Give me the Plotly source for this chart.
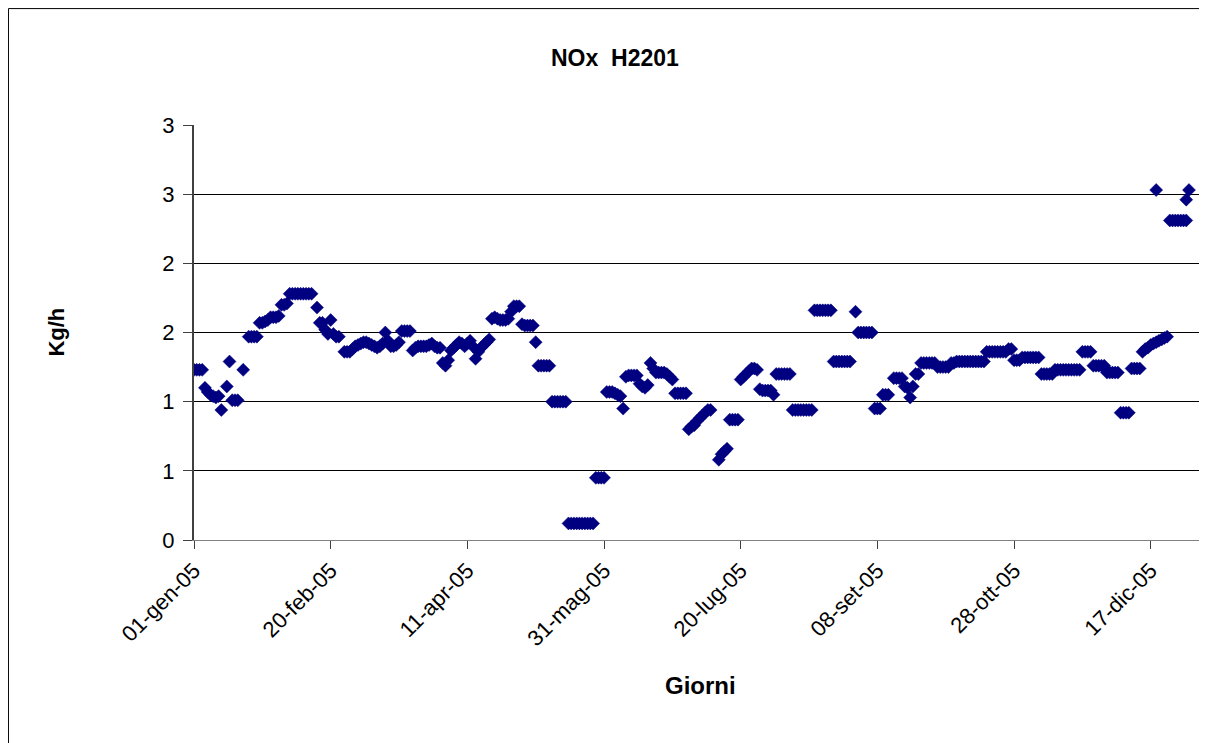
import pandas as pd
import plotly.graph_objects as go

# giorno = days from 01-gen-05, kgh = NOx emission (Kg/h)
giorno = [
    # gennaio
    0, 1, 2, 3, 4, 5, 6, 7, 8, 9, 10, 12, 13, 14, 15, 16, 18, 20, 21, 22, 23,
    24, 25, 26, 27, 28, 29, 30,
    # febbraio
    31, 32, 33, 34, 35, 36, 37, 38, 39, 40, 41, 42, 43, 45, 46, 47, 48, 49, 50,
    51, 52, 53, 55, 56, 57, 58,
    # marzo
    59, 60, 61, 62, 63, 64, 65, 66, 67, 68, 69, 70, 71, 72, 73, 74, 75, 76, 77,
    78, 79, 80, 81, 82, 83, 84, 85, 86, 87, 88, 89,
    # aprile
    90, 91, 92, 93, 94, 95, 96, 97, 98, 99, 100, 101, 102, 103, 104, 105, 106,
    107, 108, 109, 110, 111, 112, 113, 114, 115, 116, 117, 118, 119,
    # maggio
    120, 121, 122, 123, 124, 125, 126, 127, 128, 129, 130, 131, 132, 133, 134,
    135, 136, 137, 138, 139, 140, 141, 142, 143, 144, 145, 146, 147, 148, 149, 150,
    # giugno
    151, 152, 153, 154, 155, 156, 157, 158, 159, 160, 161, 162, 163, 164, 165,
    166, 167, 168, 169, 170, 171, 172, 173, 174, 175, 176, 177, 178, 179, 180,
    # luglio
    181, 182, 183, 184, 185, 186, 187, 188, 189, 192, 193, 194, 195, 196, 197,
    198, 199, 200, 201, 202, 203, 204, 205, 206, 207, 208, 209, 210, 211,
    # agosto
    212, 213, 214, 215, 216, 217, 218, 219, 220, 221, 222, 223, 224, 225, 226,
    227, 228, 229, 230, 231, 232, 233, 234, 235, 236, 237, 238, 239, 240, 242,
    # settembre
    243, 244, 245, 246, 247, 248, 249, 250, 251, 252, 253, 254, 256, 257, 258,
    259, 260, 261, 262, 263, 264, 265, 266, 267, 268, 269, 270, 271, 272,
    # ottobre
    273, 274, 275, 276, 277, 278, 279, 280, 281, 282, 283, 284, 285, 286, 287,
    288, 289, 290, 291, 292, 293, 294, 295, 296, 297, 298, 299, 300, 301, 302, 303,
    # novembre
    304, 305, 306, 307, 308, 309, 310, 311, 312, 313, 314, 315, 316, 317, 318,
    319, 320, 321, 322, 323, 324, 325, 326, 327, 328, 329, 330, 331, 332, 333,
    # dicembre
    334, 335, 336, 337, 338, 339, 340, 341, 342, 343, 344, 345, 346, 347, 348,
    349, 350, 351, 352, 352, 353, 354, 355, 356, 357, 358, 359, 360, 361, 362,
    363, 363, 364,
]

kgh = [
    # gennaio
    1.23, 1.23, 1.23, 1.23, 1.10, 1.07, 1.05, 1.04, 1.03, 1.04, 0.94, 1.11, 1.29,
    1.01, 1.01, 1.01, 1.23, 1.47, 1.47, 1.47, 1.47, 1.57, 1.57, 1.58, 1.59, 1.61,
    1.61, 1.61,
    # febbraio
    1.62, 1.70, 1.70, 1.71, 1.78, 1.78, 1.78, 1.78, 1.78, 1.78, 1.78, 1.78, 1.78,
    1.68, 1.57, 1.57, 1.52, 1.49, 1.59, 1.49, 1.47, 1.47, 1.36, 1.36, 1.36, 1.38,
    # marzo
    1.40, 1.41, 1.42, 1.43, 1.43, 1.42, 1.41, 1.40, 1.39, 1.40, 1.42, 1.50, 1.44,
    1.40, 1.40, 1.41, 1.43, 1.51, 1.51, 1.51, 1.51, 1.37, 1.39, 1.40, 1.40, 1.40,
    1.40, 1.41, 1.42, 1.40, 1.39,
    # aprile
    1.39, 1.28, 1.26, 1.30, 1.37, 1.39, 1.41, 1.43, 1.42, 1.40, 1.42, 1.44, 1.40,
    1.31, 1.36, 1.39, 1.41, 1.43, 1.45, 1.60, 1.61, 1.60, 1.59, 1.59, 1.59, 1.60,
    1.65, 1.69, 1.69, 1.69,
    # maggio
    1.56, 1.55, 1.55, 1.55, 1.55, 1.43, 1.26, 1.26, 1.26, 1.26, 1.26, 1.00, 1.00,
    1.00, 1.00, 1.00, 1.00, 0.12, 0.12, 0.12, 0.12, 0.12, 0.12, 0.12, 0.12, 0.12,
    0.12, 0.45, 0.45, 0.45, 0.45,
    # giugno
    1.07, 1.07, 1.07, 1.06, 1.05, 1.04, 0.95, 1.18, 1.19, 1.19, 1.19, 1.19, 1.13,
    1.11, 1.10, 1.12, 1.28, 1.24, 1.21, 1.21, 1.21, 1.21, 1.20, 1.18, 1.16, 1.06,
    1.06, 1.06, 1.06, 1.06,
    # luglio
    0.80, 0.82, 0.83, 0.86, 0.88, 0.90, 0.92, 0.94, 0.94, 0.58, 0.62, 0.64, 0.66,
    0.87, 0.87, 0.87, 0.87, 1.16, 1.18, 1.20, 1.22, 1.24, 1.24, 1.23, 1.09, 1.08,
    1.08, 1.08, 1.08,
    # agosto
    1.05, 1.20, 1.20, 1.20, 1.20, 1.20, 1.20, 0.94, 0.94, 0.94, 0.94, 0.94, 0.94,
    0.94, 0.94, 1.66, 1.66, 1.66, 1.66, 1.66, 1.66, 1.66, 1.29, 1.29, 1.29, 1.29,
    1.29, 1.29, 1.29, 1.65,
    # settembre
    1.50, 1.50, 1.50, 1.50, 1.50, 1.50, 0.95, 0.95, 0.95, 1.05, 1.05, 1.05, 1.17,
    1.17, 1.17, 1.17, 1.11, 1.10, 1.03, 1.11, 1.20, 1.20, 1.28, 1.28, 1.28, 1.28,
    1.28, 1.28, 1.25,
    # ottobre
    1.25, 1.25, 1.25, 1.25, 1.28, 1.28, 1.29, 1.29, 1.29, 1.29, 1.29, 1.29, 1.29,
    1.29, 1.29, 1.29, 1.29, 1.36, 1.36, 1.36, 1.36, 1.36, 1.36, 1.36, 1.36, 1.38,
    1.38, 1.30, 1.30, 1.30, 1.32,
    # novembre
    1.32, 1.32, 1.32, 1.32, 1.32, 1.32, 1.20, 1.20, 1.20, 1.20, 1.20, 1.23, 1.23,
    1.23, 1.23, 1.23, 1.23, 1.23, 1.23, 1.23, 1.23, 1.36, 1.36, 1.36, 1.36, 1.26,
    1.26, 1.26, 1.26, 1.26,
    # dicembre
    1.21, 1.21, 1.21, 1.21, 1.21, 0.92, 0.92, 0.92, 0.92, 1.24, 1.24, 1.24, 1.24,
    1.36, 1.38, 1.39, 1.41, 1.42, 1.43, 2.53, 1.44, 1.45, 1.46, 1.47, 2.31, 2.31,
    2.31, 2.31, 2.31, 2.31, 2.31, 2.46, 2.53,
]

tick_date = ['2005-01-01', '2005-02-20', '2005-04-11', '2005-05-31',
             '2005-07-20', '2005-09-08', '2005-10-28', '2005-12-17']
tick_label = ['01-gen-05', '20-feb-05', '11-apr-05', '31-mag-05',
              '20-lug-05', '08-set-05', '28-ott-05', '17-dic-05']
y_tick = [0, 0.5, 1, 1.5, 2, 2.5, 3]
y_label = ['0', '1', '1', '2', '2', '3', '3']

date = pd.Timestamp('2005-01-01') + pd.to_timedelta(giorno, unit='D')

font = 'Liberation Sans, Arial, sans-serif'

fig = go.Figure()
fig.add_trace(go.Scatter(
    x=date, y=kgh, mode='markers',
    marker=dict(symbol='diamond', size=10, color='#000080',
                line=dict(color='#000080', width=0.5)),
    showlegend=False,
))

# the page adds an 8px body margin, so the figure is offset by 8px
fig.update_layout(
    width=1199, height=735,
    margin=dict(l=186, r=3, t=117, b=203),
    paper_bgcolor='white', plot_bgcolor='white',
    font=dict(family=font, size=22, color='black'),
)
fig.update_xaxes(
    range=['2005-01-01', '2006-01-05 12:00'],
    tickvals=tick_date, ticktext=tick_label, tickangle=-45,
    ticks='outside', ticklen=8, tickcolor='#404040',
    showline=True, linecolor='#808080', linewidth=1,
    showgrid=False, zeroline=False,
)
fig.update_yaxes(
    range=[0, 3],
    tickvals=y_tick, ticktext=y_label,
    ticks='outside', ticklen=9, tickcolor='#404040', ticklabelstandoff=4,
    showline=True, linecolor='#404040', linewidth=2,
    showgrid=True, gridcolor='black', gridwidth=1,
    zeroline=False,
)

# chart area border (left and top visible) and right side of the plot area
fig.add_shape(type='line', xref='paper', yref='paper',
              x0=-0.1837, y0=-0.6, x1=-0.1837, y1=1.2805,
              line=dict(color='black', width=1), layer='below')
fig.add_shape(type='line', xref='paper', yref='paper',
              x0=-0.1837, y0=1.2805, x1=1.1, y1=1.2805,
              line=dict(color='black', width=1), layer='below')
fig.add_shape(type='line', xref='paper', yref='paper',
              x0=1, y0=0, x1=1, y1=1, line=dict(color='#808080', width=2))

fig.add_annotation(text='<b>NOx  H2201</b>', xref='paper', yref='paper',
                   x=0.4168, y=1.1976, showarrow=False, font=dict(size=23))
fig.add_annotation(text='<b>Kg/h</b>', xref='paper', yref='paper',
                   x=-0.1505, y=0.501, textangle=-90, showarrow=False,
                   font=dict(size=22))
fig.add_annotation(text='<b>Giorni</b>', xref='paper', yref='paper',
                   x=0.501, y=-0.388, showarrow=False, font=dict(size=24))

fig.write_html('out.html')
